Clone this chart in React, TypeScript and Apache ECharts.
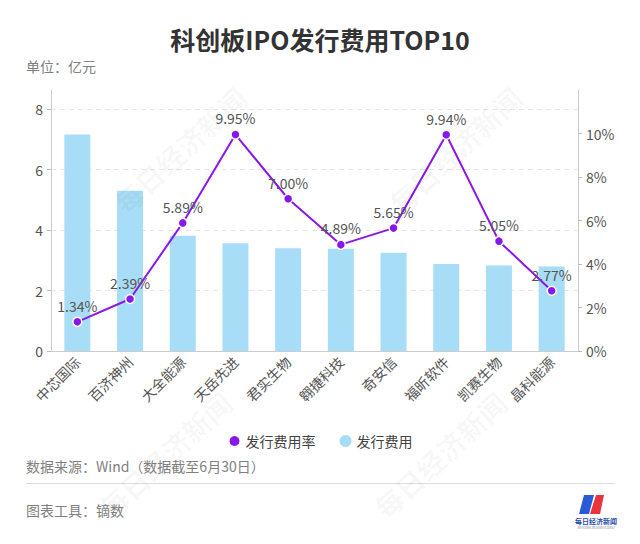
import React, { useEffect, useRef } from "react";
import * as echarts from "echarts";

const categories = ["中芯国际", "百济神州", "大全能源", "天岳先进", "君实生物", "翱捷科技", "奇安信", "福昕软件", "凯赛生物", "晶科能源"];
const feeValues = [7.16, 5.3, 3.81, 3.56, 3.4, 3.38, 3.25, 2.88, 2.83, 2.79];
const rateValues = [1.34, 2.39, 5.89, 9.95, 7.0, 4.89, 5.65, 9.94, 5.05, 2.77];
const leftTicks = [0, 2, 4, 6, 8];
const rightTicks = [0, 2, 4, 6, 8, 10];
const rightAxisMax = 12;

const FONT = "'Noto Sans CJK SC', 'Noto Sans', sans-serif";
const PURPLE = "#8A17EA";
const BLUE = "#A8DDF7";

export default function App() {
  const ref = useRef<HTMLDivElement>(null);
  useEffect(() => {
    document.body.style.margin = "0";
    const chart = echarts.init(ref.current!, null, { renderer: "svg" });
    const gridTop = 90;
    const gridBottom = 193;
    const plotH = 544 - gridTop - gridBottom;
    const rightMax = rightTicks[rightTicks.length - 1];
    const gridBase = { left: 51, right: 62, bottom: gridBottom, containLabel: false };
    const watermark = (x: number, y: number) => ({
      type: "text",
      x,
      y,
      rotation: 0.75,
      z: 100,
      silent: true,
      style: {
        text: "每日经济新闻",
        fontSize: 28,
        fontWeight: "bold",
        fontFamily: FONT,
        fill: "rgba(0,0,0,0.04)",
        textAlign: "center",
        textVerticalAlign: "middle",
      },
    });
    chart.setOption({
      animation: false,
      textStyle: { fontFamily: FONT },
      title: {
        text: "科创板IPO发行费用TOP10",
        left: "center",
        top: 21,
        textStyle: { fontSize: 25, fontWeight: "bold", color: "#333", fontFamily: FONT },
      },
      legend: {
        data: ["发行费用率", "发行费用"],
        left: "center",
        top: 429,
        icon: "circle",
        itemWidth: 12,
        itemHeight: 12,
        itemGap: 24,
        textStyle: { fontSize: 14, color: "#444", fontFamily: FONT },
      },
      grid: [
        { ...gridBase, top: gridTop },
        { ...gridBase, top: 109 },
        { ...gridBase, top: gridTop + plotH * (1 - rightMax / rightAxisMax) },
      ],
      xAxis: [
        {
          type: "category",
          gridIndex: 0,
          data: categories,
          axisLine: { lineStyle: { color: "#ccc" } },
          axisTick: { alignWithLabel: true, length: 4, lineStyle: { color: "#bbb" } },
          axisLabel: { rotate: 45, fontSize: 14, color: "#555", margin: 8, interval: 0 },
        },
        { type: "category", gridIndex: 1, data: categories, show: false },
        { type: "category", gridIndex: 2, data: categories, show: false },
      ],
      yAxis: [
        {
          type: "value",
          gridIndex: 0,
          position: "left",
          min: 0,
          max: 1,
          axisLine: { show: true, lineStyle: { color: "#ccc" } },
          axisTick: { show: false },
          axisLabel: { show: false },
          splitLine: { show: false },
        },
        {
          type: "value",
          gridIndex: 0,
          position: "right",
          min: 0,
          max: rightAxisMax,
          axisLine: { show: true, lineStyle: { color: "#ccc" } },
          axisTick: { show: false },
          axisLabel: { show: false },
          splitLine: { show: false },
        },
        {
          type: "value",
          gridIndex: 1,
          position: "left",
          min: leftTicks[0],
          max: leftTicks[leftTicks.length - 1],
          interval: 2,
          axisLine: { show: false },
          axisTick: { show: true, length: 4, lineStyle: { color: "#bbb" } },
          axisLabel: { fontSize: 14, color: "#555", margin: 8 },
          splitLine: { show: true, lineStyle: { color: "#e6e6e6", type: [5, 4] } },
        },
        {
          type: "value",
          gridIndex: 2,
          position: "right",
          min: rightTicks[0],
          max: rightMax,
          interval: 2,
          axisLine: { show: false },
          axisTick: { show: true, length: 4, lineStyle: { color: "#bbb" } },
          axisLabel: { fontSize: 14, color: "#555", margin: 8, formatter: (v: number) => v + "%" },
          splitLine: { show: false },
        },
      ],
      series: [
        {
          name: "发行费用",
          type: "bar",
          xAxisIndex: 1,
          yAxisIndex: 2,
          data: feeValues,
          barWidth: 26,
          itemStyle: { color: BLUE },
          z: 1,
        },
        {
          name: "发行费用率",
          type: "line",
          xAxisIndex: 0,
          yAxisIndex: 1,
          data: rateValues,
          symbol: "circle",
          symbolSize: 9,
          lineStyle: { color: PURPLE, width: 2 },
          itemStyle: { color: PURPLE, borderColor: "#fff", borderWidth: 1.5 },
          label: {
            show: true,
            position: "top",
            distance: 4,
            fontSize: 14,
            color: "#555",
            formatter: (p: any) => Number(p.value).toFixed(2) + "%",
          },
          z: 3,
        },
      ],
      graphic: [
        {
          type: "text",
          left: 26,
          top: 59,
          style: { text: "单位：亿元", fontSize: 14, fill: "#808080", fontFamily: FONT },
        },
        {
          type: "text",
          left: 26,
          top: 459,
          style: { text: "数据来源：Wind（数据截至6月30日）", fontSize: 14, fill: "#808080", fontFamily: FONT },
        },
        {
          type: "line",
          shape: { x1: 26, y1: 483.5, x2: 615, y2: 483.5 },
          style: { stroke: "#dcdcdc", lineWidth: 1 },
        },
        {
          type: "text",
          left: 26,
          top: 503,
          style: { text: "图表工具：镝数", fontSize: 14, fill: "#808080", fontFamily: FONT },
        },
        {
          type: "polygon",
          shape: { points: [[584, 495], [594, 495], [589, 514], [579, 514]] },
          style: { fill: "#2a5bd7" },
        },
        {
          type: "polygon",
          shape: { points: [[596, 495], [604, 495], [600, 514], [590, 514]] },
          style: { fill: "#e8343c" },
        },
        {
          type: "text",
          x: 596,
          y: 521,
          style: {
            text: "每日经济新闻",
            fontSize: 7,
            fontWeight: "bold",
            fill: "#2a4fa8",
            textAlign: "center",
            textVerticalAlign: "middle",
            fontFamily: FONT,
          },
        },
        {
          type: "text",
          x: 596,
          y: 528,
          style: {
            text: "NATIONAL BUSINESS DAILY",
            fontSize: 3,
            fill: "#7a8aa8",
            textAlign: "center",
            textVerticalAlign: "middle",
            fontFamily: FONT,
          },
        },
        watermark(180, 150),
        watermark(455, 150),
        watermark(165, 455),
        watermark(440, 455),
      ],
    });
    return () => chart.dispose();
  }, []);
  return <div ref={ref} style={{ width: 640, height: 544 }} />;
}
